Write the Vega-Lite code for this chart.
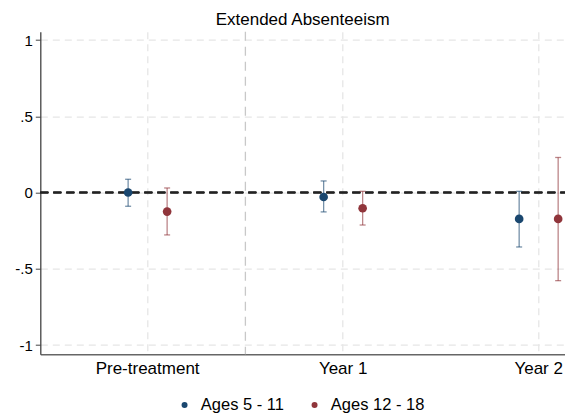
{
  "$schema": "https://vega.github.io/schema/vega-lite/v6.json",
  "autosize": {"type": "none"},
  "padding": {"left": 40.3, "top": 31.7, "right": 0, "bottom": 62.7},
  "width": 524.7,
  "height": 322.6,
  "background": "white",
  "title": {"text": "Extended Absenteeism", "fontSize": 17, "fontWeight": "normal", "color": "#000000", "font": "Liberation Sans", "offset": 2.5, "anchor": "middle"},
  "config": {
    "font": "Liberation Sans",
    "view": {"stroke": null},
    "axis": {"labelColor": "#000000", "labelFont": "Liberation Sans"},
    "legend": {"labelFont": "Liberation Sans", "symbolOpacity": 1}
  },
  "data": {"values": [
    {"period": "Pre-treatment", "group": "Ages 5 - 11", "est": 0.0, "lo": -0.09, "hi": 0.087},
    {"period": "Pre-treatment", "group": "Ages 12 - 18", "est": -0.125, "lo": -0.278, "hi": 0.03},
    {"period": "Year 1", "group": "Ages 5 - 11", "est": -0.029, "lo": -0.127, "hi": 0.076},
    {"period": "Year 1", "group": "Ages 12 - 18", "est": -0.103, "lo": -0.213, "hi": 0.008},
    {"period": "Year 2", "group": "Ages 5 - 11", "est": -0.173, "lo": -0.357, "hi": 0.008},
    {"period": "Year 2", "group": "Ages 12 - 18", "est": -0.173, "lo": -0.578, "hi": 0.23}
  ]},
  "encoding": {
    "x": {
      "field": "period", "type": "nominal",
      "scale": {"domain": ["Pre-treatment", "Year 1", "Year 2"], "range": [0, 605.7], "paddingInner": 0, "paddingOuter": 0.049},
      "axis": {"title": null, "ticks": false, "labelAngle": 0, "labelFontSize": 17, "labelPadding": 6, "domainColor": "#666666", "domainWidth": 1.5, "grid": true, "gridColor": "#e6e6e6", "gridDash": [7, 5], "gridWidth": 1.3}
    },
    "xOffset": {"field": "group", "type": "nominal", "scale": {"domain": ["Ages 5 - 11", "Ages 12 - 18"], "range": [58.75, 136.75], "paddingOuter": 0, "paddingInner": 0}}
  },
  "layer": [
    {
      "data": {"values": [{"period": "Pre-treatment"}]},
      "mark": {"type": "rule", "color": "#c8c8c8", "strokeDash": [9, 6], "strokeWidth": 1.3},
      "encoding": {"x": {"field": "period", "type": "nominal", "bandPosition": 1}, "xOffset": null}
    },
    {
      "mark": {"type": "rule", "color": "#222222", "strokeDash": [8, 5], "strokeWidth": 1.6},
      "encoding": {"y": {"datum": 0, "type": "quantitative"}, "x": {"value": 0}, "x2": {"value": 524.7}, "xOffset": null}
    },
    {
      "mark": {"type": "rule", "strokeWidth": 1.3, "strokeOpacity": 0.6},
      "encoding": {
        "y": {"field": "lo", "type": "quantitative", "scale": {"domain": [-1.061, 1.055], "nice": false, "zero": false},
          "axis": {"title": null, "values": [-1, -0.5, 0, 0.5, 1], "labelExpr": "replace(toString(datum.value), '0.', '.')", "labelFontSize": 15, "labelPadding": 3, "tickSize": 5, "tickColor": "#444444", "domainColor": "#444444", "domainWidth": 1.3, "grid": true, "gridColor": "#e6e6e6", "gridDash": [7, 5], "gridWidth": 1.3}},
        "y2": {"field": "hi"},
        "color": {"field": "group", "type": "nominal", "scale": {"domain": ["Ages 5 - 11", "Ages 12 - 18"], "range": ["#1a476f", "#90353b"]},
          "legend": {"title": null, "orient": "none", "legendX": 136, "legendY": 365, "direction": "horizontal", "symbolType": "circle", "symbolSize": 36, "symbolOpacity": 1, "labelFontSize": 16.5, "labelColor": "#000000", "labelOffset": 8, "columnPadding": 22,
            "encode": {"symbols": {"update": {"fill": {"scale": "color", "field": "value"}, "stroke": {"value": "transparent"}, "opacity": {"value": 1}, "fillOpacity": {"value": 1}, "strokeOpacity": {"value": 0}}}}}}
      }
    },
    {
      "mark": {"type": "tick", "size": 6, "thickness": 1.3, "opacity": 0.6},
      "encoding": {
        "y": {"field": "lo", "type": "quantitative"},
        "color": {"field": "group", "type": "nominal"}
      }
    },
    {
      "mark": {"type": "tick", "size": 6, "thickness": 1.3, "opacity": 0.6},
      "encoding": {
        "y": {"field": "hi", "type": "quantitative"},
        "color": {"field": "group", "type": "nominal"}
      }
    },
    {
      "mark": {"type": "circle", "size": 75, "opacity": 1},
      "encoding": {
        "y": {"field": "est", "type": "quantitative"},
        "color": {"field": "group", "type": "nominal"}
      }
    }
  ]
}
